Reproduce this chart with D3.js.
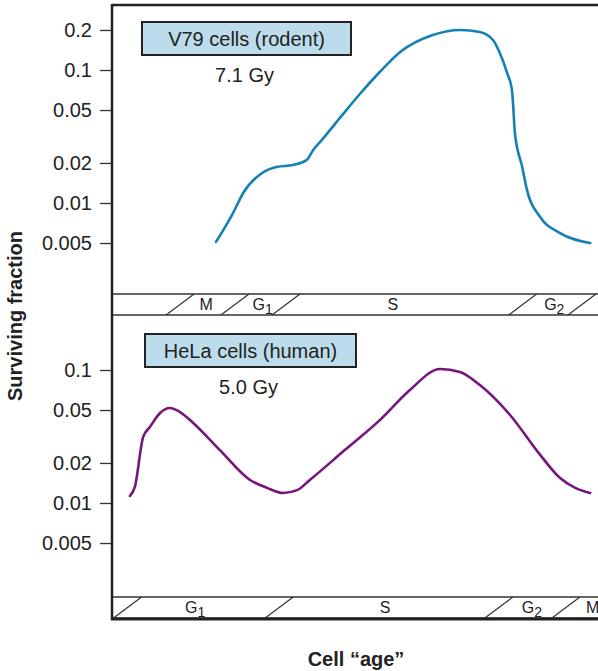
<!DOCTYPE html>
<html>
<head>
<meta charset="utf-8">
<script src="https://cdn.jsdelivr.net/npm/d3@7"></script>
<style>
  body { margin: 0; background: #fff; }
  text { font-family: "Liberation Sans", Arial, sans-serif; fill: #222; }
</style>
</head>
<body>
<div id="chart"></div>
<script>
// cell age, arbitrary units across the panel (0 = left axis, 100 = right edge)
var v79Age = [21.4, 24.9, 27.0, 30.9, 34.0, 37.2, 40.1, 41.4, 43.2, 46.9, 51.0, 55.1, 59.3, 66.0,
              71.6, 75.7, 78.4, 79.8, 81.3, 82.3, 82.5, 82.9, 84.4, 85.4, 88.1, 92.2, 98.4];
var v79Surv = [0.0051, 0.0084, 0.0119, 0.0168, 0.0187, 0.0193, 0.0211, 0.025, 0.0298, 0.0436, 0.066, 0.0966, 0.1365, 0.183,
               0.2, 0.193, 0.168, 0.134, 0.095, 0.0708, 0.0574, 0.0336, 0.0187, 0.0125, 0.00785, 0.00594, 0.0050];

var helaAge = [3.7, 4.7, 6.4, 7.8, 9.9, 11.9, 14.0, 16.7, 22.2, 28.4, 31.9, 35.2, 38.1, 40.7,
               47.9, 55.1, 61.3, 67.5, 71.6, 75.7, 81.9, 88.1, 92.2, 95.3, 98.4];
var helaSurv = [0.0113, 0.0132, 0.0313, 0.0373, 0.0475, 0.0518, 0.0483, 0.04, 0.025, 0.0149, 0.013, 0.0119, 0.0125, 0.0149,
                0.025, 0.042, 0.0708, 0.1017, 0.0966, 0.077, 0.0459, 0.023, 0.0154, 0.013, 0.0119];

var topTicks = [0.2, 0.1, 0.05, 0.02, 0.01, 0.005];
var bottomTicks = [0.1, 0.05, 0.02, 0.01, 0.005];

// phase bars: boundaries and labels (age units)
var v79Bounds = [14.0, 25.3, 35.8, 84.5, 96.7];
var v79Phases = ["M", "G1", "S", "G2"];
var v79PhasePos = [19.4, 31.0, 57.8, 91.0];

var helaBounds = [3.2, 34.4, 79.6, 93.4];
var helaPhases = ["G1", "S", "G2", "M"];
var helaPhasePos = [17.1, 56.2, 86.4, 98.9];

var svg = d3.select("#chart").append("svg")
        .attr("width", 598)
        .attr("height", 671);

var x = d3.scaleLinear().domain([0, 100]).range([112, 598]);

var yTop = d3.scaleLog().domain([0.01, 0.1]).range([203, 70]);
var yBottom = d3.scaleLog().domain([0.01, 0.1]).range([503, 370]);

function drawPanel(y, ticks, ages, surv, color, barTop, barBottom, bounds, phases, phasePos, name, dose, boxY) {
    var ax = svg.append("g")
            .attr("transform", "translate(112,0)")
            .call(d3.axisLeft(y).tickValues(ticks).tickSize(12).tickPadding(8)
                    .tickFormat(function(d) { return String(d); }));
    ax.select(".domain").remove();
    ax.selectAll("line").attr("stroke", "#333").attr("stroke-width", 1.3);
    ax.selectAll("text").style("font-size", "20px").style("font-family", "Liberation Sans, Arial, sans-serif")
            .attr("fill", "#222");

    // phase bar
    svg.append("line").attr("x1", 112).attr("x2", 598).attr("y1", barTop).attr("y2", barTop)
            .attr("stroke", "#333").attr("stroke-width", 1.3);
    svg.append("line").attr("x1", 112).attr("x2", 598).attr("y1", barBottom).attr("y2", barBottom)
            .attr("stroke", "#333").attr("stroke-width", 1.3);
    svg.selectAll(null).data(bounds).enter().append("line")
            .attr("x1", function(d) { return x(d) - 14; })
            .attr("x2", function(d) { return x(d) + 14; })
            .attr("y1", barBottom)
            .attr("y2", barTop)
            .attr("stroke", "#333").attr("stroke-width", 1.2);
    var lab = svg.selectAll(null).data(phases).enter().append("text")
            .attr("x", function(d, i) { return x(phasePos[i]); })
            .attr("y", barBottom - 5)
            .attr("text-anchor", "middle")
            .style("font-size", "16px");
    lab.append("tspan").text(function(d) { return d.charAt(0); });
    lab.append("tspan").attr("dy", 4).style("font-size", "14px").text(function(d) { return d.slice(1); });

    // label box
    var bx = svg.append("g");
    bx.append("rect")
            .attr("x", boxY[0]).attr("y", boxY[1])
            .attr("width", boxY[2]).attr("height", 33)
            .style("fill", "#bcdcec").style("stroke", "#222").style("stroke-width", 2);
    bx.append("text").attr("x", boxY[0] + boxY[2] / 2).attr("y", boxY[1] + 24)
            .attr("text-anchor", "middle").style("font-size", "20px").text(name);
    bx.append("text").attr("x", boxY[0] + boxY[2] / 2 - 2).attr("y", boxY[1] + 60)
            .attr("text-anchor", "middle").style("font-size", "20px").text(dose);

    // curve
    var line = d3.line()
            .x(function(d, i) { return x(ages[i]); })
            .y(function(d) { return y(d); })
            .curve(d3.curveMonotoneX);
    svg.append("path").datum(surv)
            .attr("d", line)
            .style("fill", "none")
            .style("stroke", color)
            .style("stroke-width", 2.6)
            .style("stroke-linecap", "round");
}

drawPanel(yTop, topTicks, v79Age, v79Surv, "#1580b4", 294, 315,
        v79Bounds, v79Phases, v79PhasePos, "V79 cells (rodent)", "7.1 Gy", [142, 22, 209]);
drawPanel(yBottom, bottomTicks, helaAge, helaSurv, "#78157a", 597, 618,
        helaBounds, helaPhases, helaPhasePos, "HeLa cells (human)", "5.0 Gy", [145, 334, 211]);

// frame
svg.append("line").attr("x1", 112).attr("x2", 598).attr("y1", 5).attr("y2", 5)
        .attr("stroke", "#222").attr("stroke-width", 2.5);
svg.append("line").attr("x1", 112).attr("x2", 112).attr("y1", 4).attr("y2", 620)
        .attr("stroke", "#222").attr("stroke-width", 2.5);
svg.append("line").attr("x1", 111).attr("x2", 598).attr("y1", 619).attr("y2", 619)
        .attr("stroke", "#222").attr("stroke-width", 3);

// axis titles
svg.append("text")
        .attr("transform", "translate(22,316) rotate(-90)")
        .attr("text-anchor", "middle")
        .style("font-size", "20px").style("font-weight", "bold")
        .text("Surviving fraction");
svg.append("text")
        .attr("x", 356).attr("y", 666)
        .attr("text-anchor", "middle")
        .style("font-size", "20px").style("font-weight", "bold")
        .text("Cell \u201cage\u201d");
</script>
</body>
</html>
